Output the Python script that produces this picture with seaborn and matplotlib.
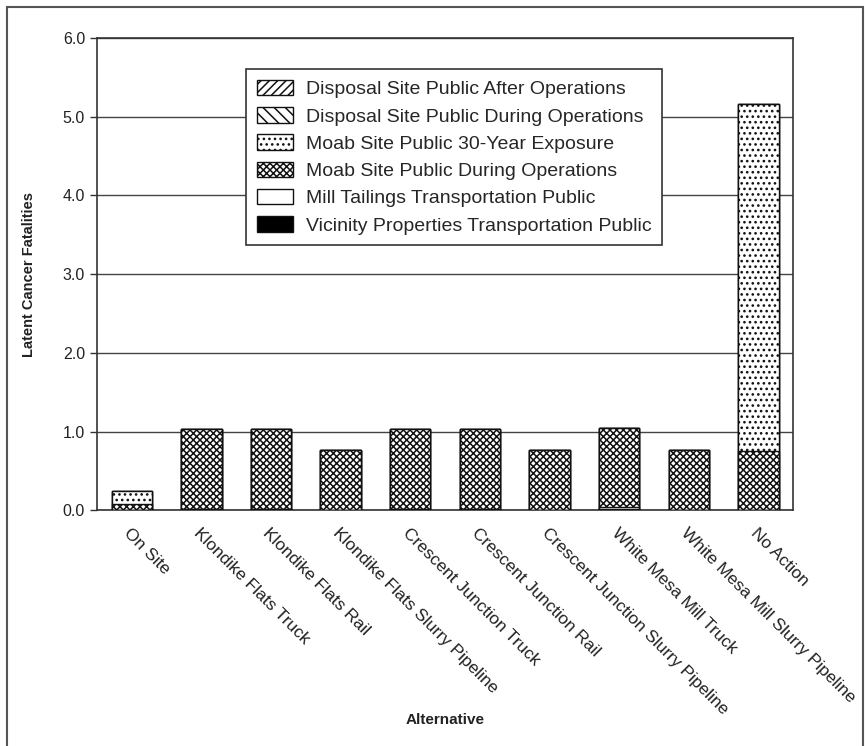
import seaborn as sns
import matplotlib.pyplot as plt
import pandas as pd
import numpy as np
from matplotlib.patches import Patch, Rectangle

sns.set_style('white')
plt.rcParams['font.family'] = ['Liberation Sans', 'DejaVu Sans']
plt.rcParams['hatch.linewidth'] = 1.1

alternatives = ['On Site', 'Klondike Flats Truck', 'Klondike Flats Rail',
                'Klondike Flats Slurry Pipeline', 'Crescent Junction Truck',
                'Crescent Junction Rail', 'Crescent Junction Slurry Pipeline',
                'White Mesa Mill Truck', 'White Mesa Mill Slurry Pipeline', 'No Action']

# stacked from bottom to top
vicinity = [0.00, 0.01, 0.01, 0.00, 0.01, 0.01, 0.00, 0.02, 0.00, 0.00]
mill_tailings = [0.00, 0.01, 0.00, 0.00, 0.01, 0.00, 0.00, 0.02, 0.00, 0.00]
moab_ops = [0.08, 1.01, 1.02, 0.77, 1.01, 1.02, 0.77, 1.01, 0.77, 0.75]
moab_30yr = [0.17, 0.00, 0.00, 0.00, 0.00, 0.00, 0.00, 0.00, 0.00, 4.41]
disposal_ops = [0.00, 0.00, 0.00, 0.00, 0.00, 0.00, 0.00, 0.00, 0.00, 0.00]
disposal_after = [0.00, 0.00, 0.00, 0.00, 0.00, 0.00, 0.00, 0.00, 0.00, 0.00]

layers = [
    ('Vicinity Properties Transportation Public', vicinity, 'black', ''),
    ('Mill Tailings Transportation Public', mill_tailings, 'white', ''),
    ('Moab Site Public During Operations', moab_ops, 'white', 'xxxxx'),
    ('Moab Site Public 30-Year Exposure', moab_30yr, 'white', '...'),
    ('Disposal Site Public During Operations', disposal_ops, 'white', '\\\\\\'),
    ('Disposal Site Public After Operations', disposal_after, 'white', '////'),
]

fig = plt.figure(figsize=(8.65, 7.46), dpi=100)
ax = fig.add_axes([0.112, 0.316, 0.805, 0.633])

cum = np.zeros(len(alternatives))
cums = []
for name, vals, col, hatch in layers:
    cum = cum + np.array(vals)
    cums.append(cum.copy())

# draw the tallest (cumulative) layer first, lower layers on top
for (name, vals, col, hatch), c in reversed(list(zip(layers, cums))):
    df = pd.DataFrame({'Alternative': alternatives, 'value': c})
    sns.barplot(data=df, x='Alternative', y='value', ax=ax, color=col,
                hatch=hatch, edgecolor='#111', linewidth=1.0, width=0.58,
                saturation=1, zorder=3)

ax.set_ylim(0, 6)
ax.set_yticks(np.arange(0, 6.1, 1))
ax.set_yticklabels([f'{v:.1f}' for v in np.arange(0, 6.1, 1)], fontsize=11.5, color='#222')
ax.yaxis.grid(True, color='#444', linewidth=1.0, zorder=0)
ax.set_axisbelow(True)
ax.tick_params(axis='y', direction='out', length=5, width=1, color='#333', left=True)
ax.tick_params(axis='x', length=0, pad=11)
ax.set_xticks(range(len(alternatives)))
ax.set_xticklabels(alternatives, rotation=-45, ha='left', rotation_mode='anchor',
                   fontsize=12.5, color='#222')
for s in ax.spines.values():
    s.set_color('#333')
    s.set_linewidth(1.2)

ax.set_ylabel('Latent Cancer Fatalities', fontsize=10.5, fontweight='bold', color='#222')
ax.yaxis.set_label_coords(-0.088, 0.5)
ax.set_xlabel('Alternative', fontsize=11, fontweight='bold', color='#222')
ax.xaxis.set_label_coords(0.5, -0.43)

handles = [Patch(facecolor=col, edgecolor='#111', hatch=hatch, label=name)
           for name, vals, col, hatch in reversed(layers)]
leg = ax.legend(handles=handles, loc='upper left', bbox_to_anchor=(0.214, 0.934),
                fontsize=14, frameon=True, fancybox=False, edgecolor='#333',
                handlelength=1.85, handleheight=0.85, handletextpad=0.7,
                labelspacing=0.45, borderpad=0.55, borderaxespad=0, framealpha=1)
leg.get_frame().set_linewidth(1.2)
leg.set_zorder(5)

fig.add_artist(Rectangle((0.008, -0.01), 0.99, 1.0, transform=fig.transFigure,
                         fill=False, edgecolor='#555', linewidth=1.5))

fig.savefig('out.png', dpi=100)
